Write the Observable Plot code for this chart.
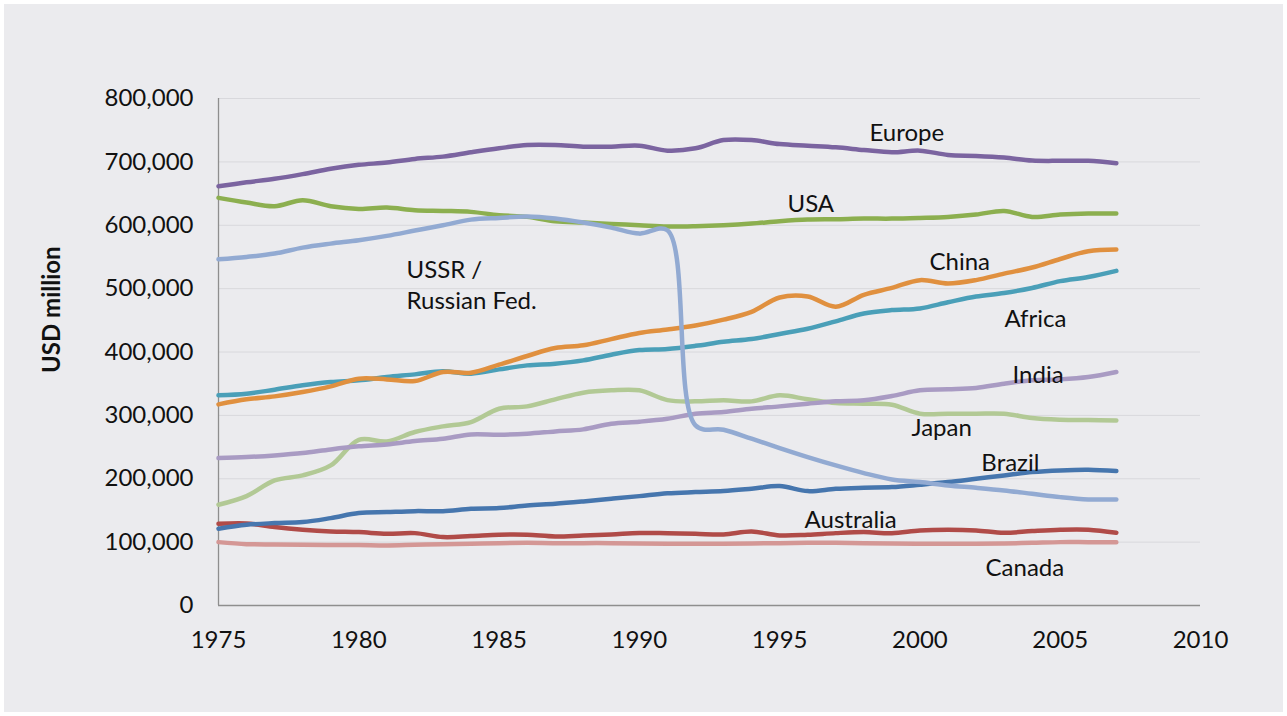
<!DOCTYPE html>
<html><head><meta charset="utf-8">
<script src="https://cdn.jsdelivr.net/npm/d3@7"></script>
<script src="https://cdn.jsdelivr.net/npm/@observablehq/plot@0.6"></script>
<style>
html,body{margin:0;padding:0;background:#fff;width:1287px;height:716px;overflow:hidden;}
#panel{position:absolute;left:4px;top:4px;width:1279px;height:708px;background:#ebebee;}
#chart{position:absolute;left:0;top:0;}
</style></head>
<body><div id="panel"></div><div id="chart"></div>
<script>
const years = [1975,1976,1977,1978,1979,1980,1981,1982,1983,1984,1985,1986,1987,1988,1989,1990,1991,1992,1993,1994,1995,1996,1997,1998,1999,2000,2001,2002,2003,2004,2005,2006,2007];

// values in thousand USD million
const canada    = [100,96.8,96.3,95.8,95.3,95.3,94.7,95.8,96.8,97.4,98.4,98.9,98.4,98.4,98.4,97.9,97.4,97.4,97.4,97.9,98.4,98.9,98.9,98.4,97.9,97.4,97.4,97.4,97.9,98.9,100,100,100];
const australia = [128.9,129.5,123.7,119.5,116.8,115.8,113.2,114.2,107.9,109.5,111.6,111.6,108.9,110.5,112.1,114.5,114,113.2,112.1,116.8,110.5,111.6,114.2,115.8,114.2,118.4,119.5,118.4,114.7,117.4,119.5,119.5,114.7];
const brazil    = [121.1,127.4,130,131.6,137.9,145.8,147.4,148.9,148.9,152.6,153.7,157.9,160.5,164.2,168.4,172.6,177,178.9,180.5,184.2,188.4,180.5,184.2,185.8,186.8,190.5,194.7,200,205.3,210.5,213.2,214.2,212.1];
const japan     = [158.9,172.6,197.4,205.3,221,261.5,259,273.7,282.6,289.5,310.5,314.2,325.3,335.8,339.5,339.5,324,322.1,323.7,322.1,331.6,325.3,319.5,318.4,316.8,302.6,302.6,302.6,302.6,295.8,293.2,292.6,292.1];
const india     = [232.6,234.2,236.8,240.5,246.3,251.1,254.2,259.5,263.2,270,269.5,271.1,274.7,277.9,286.8,290,294.7,302.6,305.3,310.5,314.2,318.4,322.1,323.7,330.5,339.5,341.1,343.2,350,355.3,356.8,360.5,368.4];
const africa    = [331.6,334.2,340.5,347.4,352.6,355.3,360.5,364.7,369.5,365.8,372.6,378.9,381.6,386.8,395.8,403,404.8,409.7,416.1,420.4,428.5,436.6,448.4,460.8,466.1,468.8,478.5,487.6,493,501.1,511.8,518.3,528];
const china     = [317.4,325.3,330,336.8,345.8,357.9,356.8,354.2,368.4,367.4,380,393.7,406.3,410.5,420.4,430.1,435.5,441.9,451.1,463.4,486,487.6,471.5,490.3,501.1,513.4,508.1,513.4,523.7,533.3,546.8,559.1,561.8];
const usa       = [643.2,635.8,630,639.5,630,625.8,627.9,623.7,622.6,621.1,615.8,613.2,606.3,604.2,602.1,600,597.9,598.4,600,602.6,606.3,608.9,609.5,610.5,610.5,611.6,613.2,616.8,622.6,613.2,616.8,618.4,618.4];
const europe    = [661.5,667.7,673.4,680.7,689.1,695.3,699,704.7,708.3,715.1,721.4,726.6,726.6,724,724,725.5,717.7,721.4,734.4,734.4,728.1,725.5,722.9,718.8,715.1,717.7,710.9,709.4,706.8,702.1,701.6,701.6,697.9];
const ussr      = [546.3,550,555.3,564.7,571,576.3,583.2,591.6,600,608.9,611.6,613.7,610.5,604.2,596.3,586.8,592,284.2,277.4,263.2,248.4,234.2,221,208.9,198.9,194.7,189.5,185.8,181.6,176.3,171,167.4,167.4];

const seriesNames  = ["Canada","Australia","Brazil","Japan","India","Africa","China","USA","Europe","USSR / Russian Fed."];
const seriesValues = [canada,australia,brazil,japan,india,africa,china,usa,europe,ussr];
const seriesColors = ["#d49795","#b04b48","#4676ae","#b2c995","#a99bc3","#4a9fb8","#e0903f","#8caf4f","#7b64a0","#92aad2"];

const labelText  = ["Europe","USA","USSR /\nRussian Fed.","China","Africa","India","Japan","Brazil","Australia","Canada"];
const labelYear  = [1998.2,1995.28,1981.7,2000.34,2003.01,2003.3,1999.7,2002.19,1995.89,2002.34];
const labelValue = [749000,636500,508000,544500,455000,367000,283000,228500,138500,62000];

const xTicks = [1975,1980,1985,1990,1995,2000,2005,2010];
const yTicks = [0,100000,200000,300000,400000,500000,600000,700000,800000];

const rows = seriesNames.flatMap((name,i) => years.map((yr,j) => ({series:name, year:yr, value:seriesValues[i][j]*1000})));
const labels = labelText.map((t,i) => ({text:t, year:labelYear[i], value:labelValue[i]}));

const chart = Plot.plot({
  width:1287, height:716,
  marginLeft:218, marginRight:87, marginTop:98, marginBottom:111,
  style:{background:"transparent", fontFamily:"Lato, sans-serif", fontSize:"24px", color:"#111", overflow:"visible"},
  x:{domain:[1975,2010]},
  y:{domain:[0,800000]},
  color:{domain:seriesNames, range:seriesColors},
  marks:[
    Plot.gridY(yTicks, {stroke:"#d8d8dc", strokeOpacity:1, strokeWidth:1}),
    Plot.ruleX([1975], {stroke:"#8e8e8e", strokeWidth:1.3}),
    Plot.ruleY([0], {stroke:"#8e8e8e", strokeWidth:1.3}),
    Plot.axisY(yTicks, {tickSize:0, tickPadding:25, tickFormat:d3.format(","), label:null, fontSize:24, fill:"#111"}),
    Plot.axisX(xTicks, {tickSize:0, tickPadding:25, tickFormat:"d", label:null, fontSize:24, fill:"#111"}),
    Plot.line(rows, {x:"year", y:"value", z:"series", stroke:"series", strokeWidth:4.5, curve:"catmull-rom", strokeLinecap:"round", strokeLinejoin:"round"}),
    Plot.text(labels, {x:"year", y:"value", text:"text", textAnchor:"start", lineAnchor:"middle", lineHeight:1.3, fontSize:24, fill:"#111"}),
    Plot.text(["USD million"], {text:d=>d, frameAnchor:"left", dx:-166, dy:21, rotate:-90, fontWeight:"bold", fontSize:24, fill:"#111"})
  ]
});
document.getElementById("chart").appendChild(chart);
</script>
</body></html>
